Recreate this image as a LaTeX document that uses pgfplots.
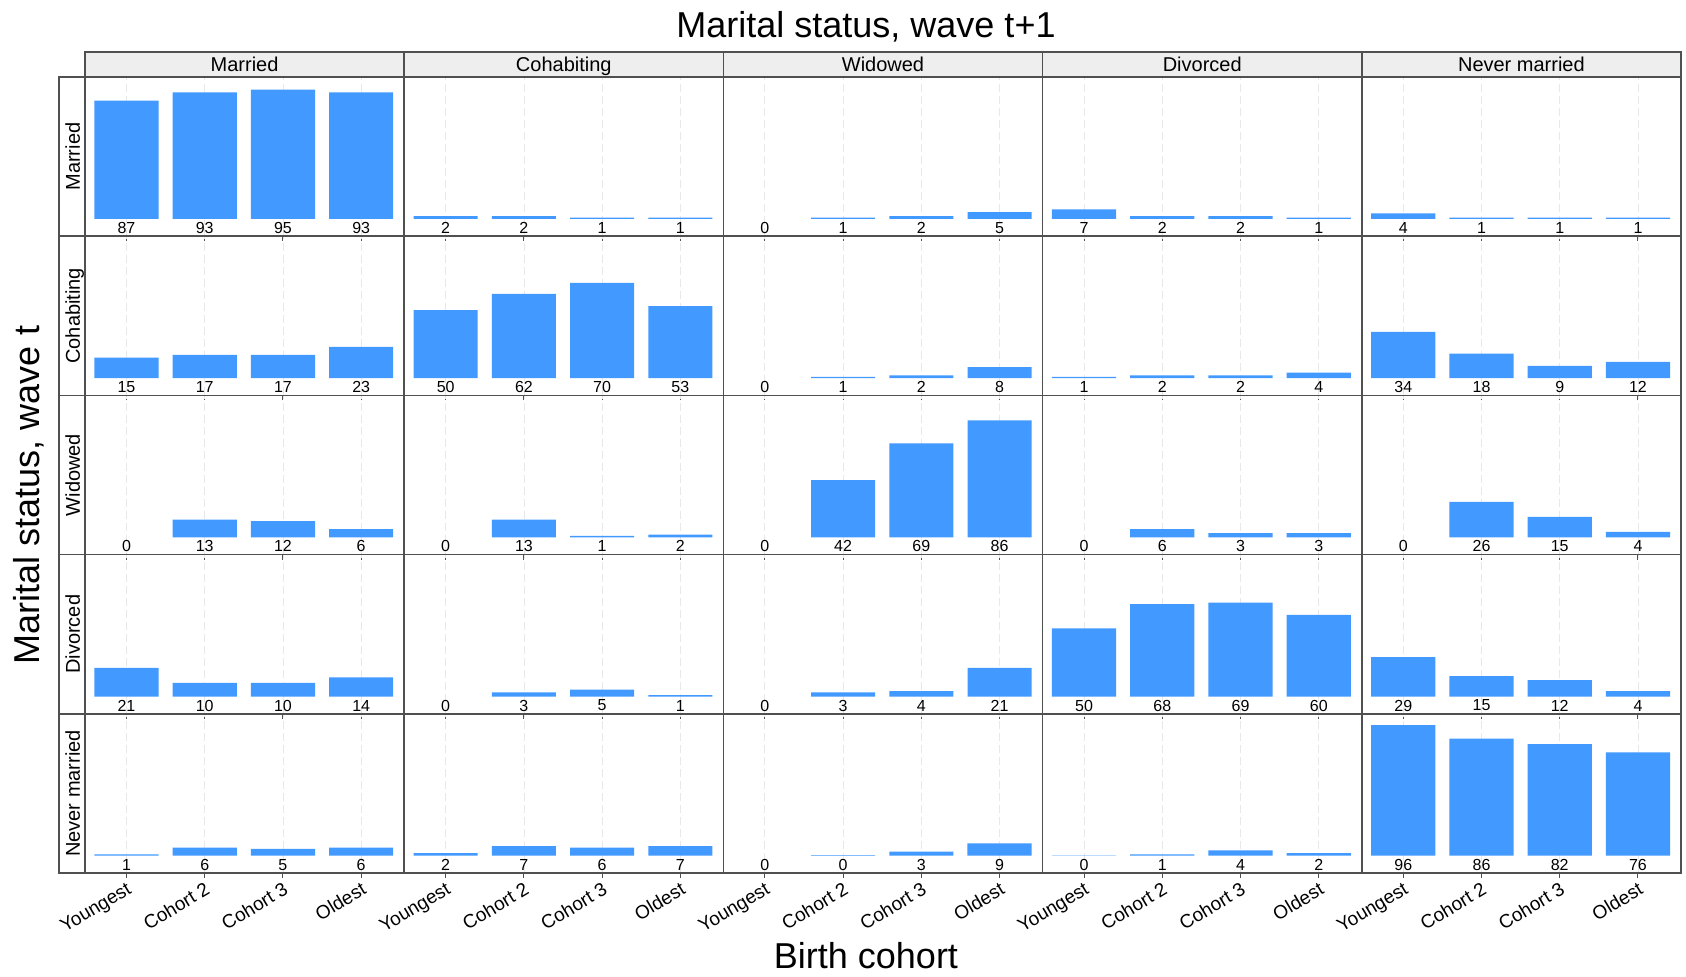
\documentclass[border=0pt]{standalone}
\usepackage{fontspec}
\setmainfont{Liberation Sans}
\usepackage{pgfplots}
\usepackage{pgfplotstable}
\pgfplotsset{compat=1.18}
\usepgfplotslibrary{groupplots}
\usetikzlibrary{calc}
\definecolor{barblue}{RGB}{66,153,255}
\definecolor{frame}{RGB}{80,80,80}
\definecolor{stripfill}{RGB}{238,238,238}

% rows: marital status at wave t; columns M C W D N: status at wave t+1; x: cohort
\pgfplotstableread{
x M C W D N
1 87 2 0 7 4
2 93 2 1 2 1
3 95 1 2 2 1
4 93 1 5 1 1
}\rowM
\pgfplotstableread{
x M C W D N
1 15 50 0 1 34
2 17 62 1 2 18
3 17 70 2 2 9
4 23 53 8 4 12
}\rowC
\pgfplotstableread{
x M C W D N
1 0 0 0 0 0
2 13 13 42 6 26
3 12 1 69 3 15
4 6 2 86 3 4
}\rowW
\pgfplotstableread{
x M C W D N
1 21 0 0 50 29
2 10 3 3 68 15
3 10 5 4 69 12
4 14 1 21 60 4
}\rowD
\pgfplotstableread{
x M C W D N
1 1 2 0 0.3 96
2 6 7 0.4 1 86
3 5 6 3 4 82
4 6 7 9 2 76
}\rowN

\newcommand\panel[2]{%
  \nextgroupplot
  \addplot[ybar, bar width=0.82, fill=barblue, draw=none,
    y filter/.expression={y==0 ? nan : y}, unbounded coords=discard] table[x=x, y=#2]{#1};
  \addplot[draw=none, mark=none,
    nodes near coords={\pgfmathprintnumber[fixed,precision=0,assume math mode=true]{\pgfplotspointmeta}},
    every node near coord/.style={anchor=center, inner sep=0pt, font=\fontsize{8}{9}\selectfont},
    point meta=\thisrow{#2}] table[x=x, y expr=-6.6]{#1};
}

\begin{document}
\begin{tikzpicture}
\begin{groupplot}[
  group style={group size=5 by 5, horizontal sep=0pt, vertical sep=0pt,
    xticklabels at=edge bottom, yticklabels at=edge left},
  width=159.6pt, height=79.6pt, scale only axis,
  xmin=0.47, xmax=4.55, ymin=-12.7, ymax=104.3,
  xtick={1,2,3,4}, xticklabels={Youngest,Cohort 2,Cohort 3,Oldest},
  ytick=\empty,
  xtick pos=left, tick align=outside, major tick length=2.5pt,
  xtick style={frame, line width=0.5pt},
  axis line style={frame, line width=0.75pt},
  xmajorgrids, major grid style={gray!18, dash pattern=on 4pt off 2pt},
  xticklabel style={rotate=31, anchor=north east, inner sep=1pt, font=\fontsize{9.5}{11}\selectfont},
]
\panel{\rowM}{M}\panel{\rowM}{C}\panel{\rowM}{W}\panel{\rowM}{D}\panel{\rowM}{N}
\panel{\rowC}{M}\panel{\rowC}{C}\panel{\rowC}{W}\panel{\rowC}{D}\panel{\rowC}{N}
\panel{\rowW}{M}\panel{\rowW}{C}\panel{\rowW}{W}\panel{\rowW}{D}\panel{\rowW}{N}
\panel{\rowD}{M}\panel{\rowD}{C}\panel{\rowD}{W}\panel{\rowD}{D}\panel{\rowD}{N}
\panel{\rowN}{M}\panel{\rowN}{C}\panel{\rowN}{W}\panel{\rowN}{D}\panel{\rowN}{N}
\end{groupplot}
\foreach \j/\lab in {1/Married,2/Cohabiting,3/Widowed,4/Divorced,5/Never married}{
  \draw[frame, line width=0.75pt, fill=stripfill] (group c\j r1.north west) rectangle ([yshift=12.5pt]group c\j r1.north east);
  \node[font=\fontsize{10}{12}\selectfont, anchor=base, inner sep=0pt] at ($([yshift=2.6pt]group c\j r1.north west)!0.5!([yshift=2.6pt]group c\j r1.north east)$) {\lab};
}
\foreach \i/\lab in {1/Married,2/Cohabiting,3/Widowed,4/Divorced,5/Never married}{
  \draw[frame, line width=0.75pt, fill=white] ([xshift=-13pt]group c1r\i.south west) rectangle (group c1r\i.north west);
  \node[rotate=90, anchor=base, inner sep=0pt, font=\fontsize{10}{12}\selectfont] at ($([xshift=-2.6pt]group c1r\i.south west)!0.5!([xshift=-2.6pt]group c1r\i.north west)$) {\lab};
}
\node[font=\fontsize{18}{20}\selectfont, anchor=base] at ([xshift=390.5pt, yshift=20pt]group c1r1.north west) {Marital status, wave t+1};
\node[font=\fontsize{18}{20}\selectfont, anchor=base] at ([xshift=390.5pt, yshift=-47.5pt]group c1r5.south west) {Birth cohort};
\node[font=\fontsize{18}{20}\selectfont, rotate=90] at ([xshift=-28pt, yshift=-209pt]group c1r1.north west) {Marital status, wave t};
\path[use as bounding box] ([shift={(-42.5pt,-51.5pt)}]group c1r5.south west) rectangle ([shift={(2.5pt,38.5pt)}]group c5r1.north east);
\end{tikzpicture}
\end{document}
